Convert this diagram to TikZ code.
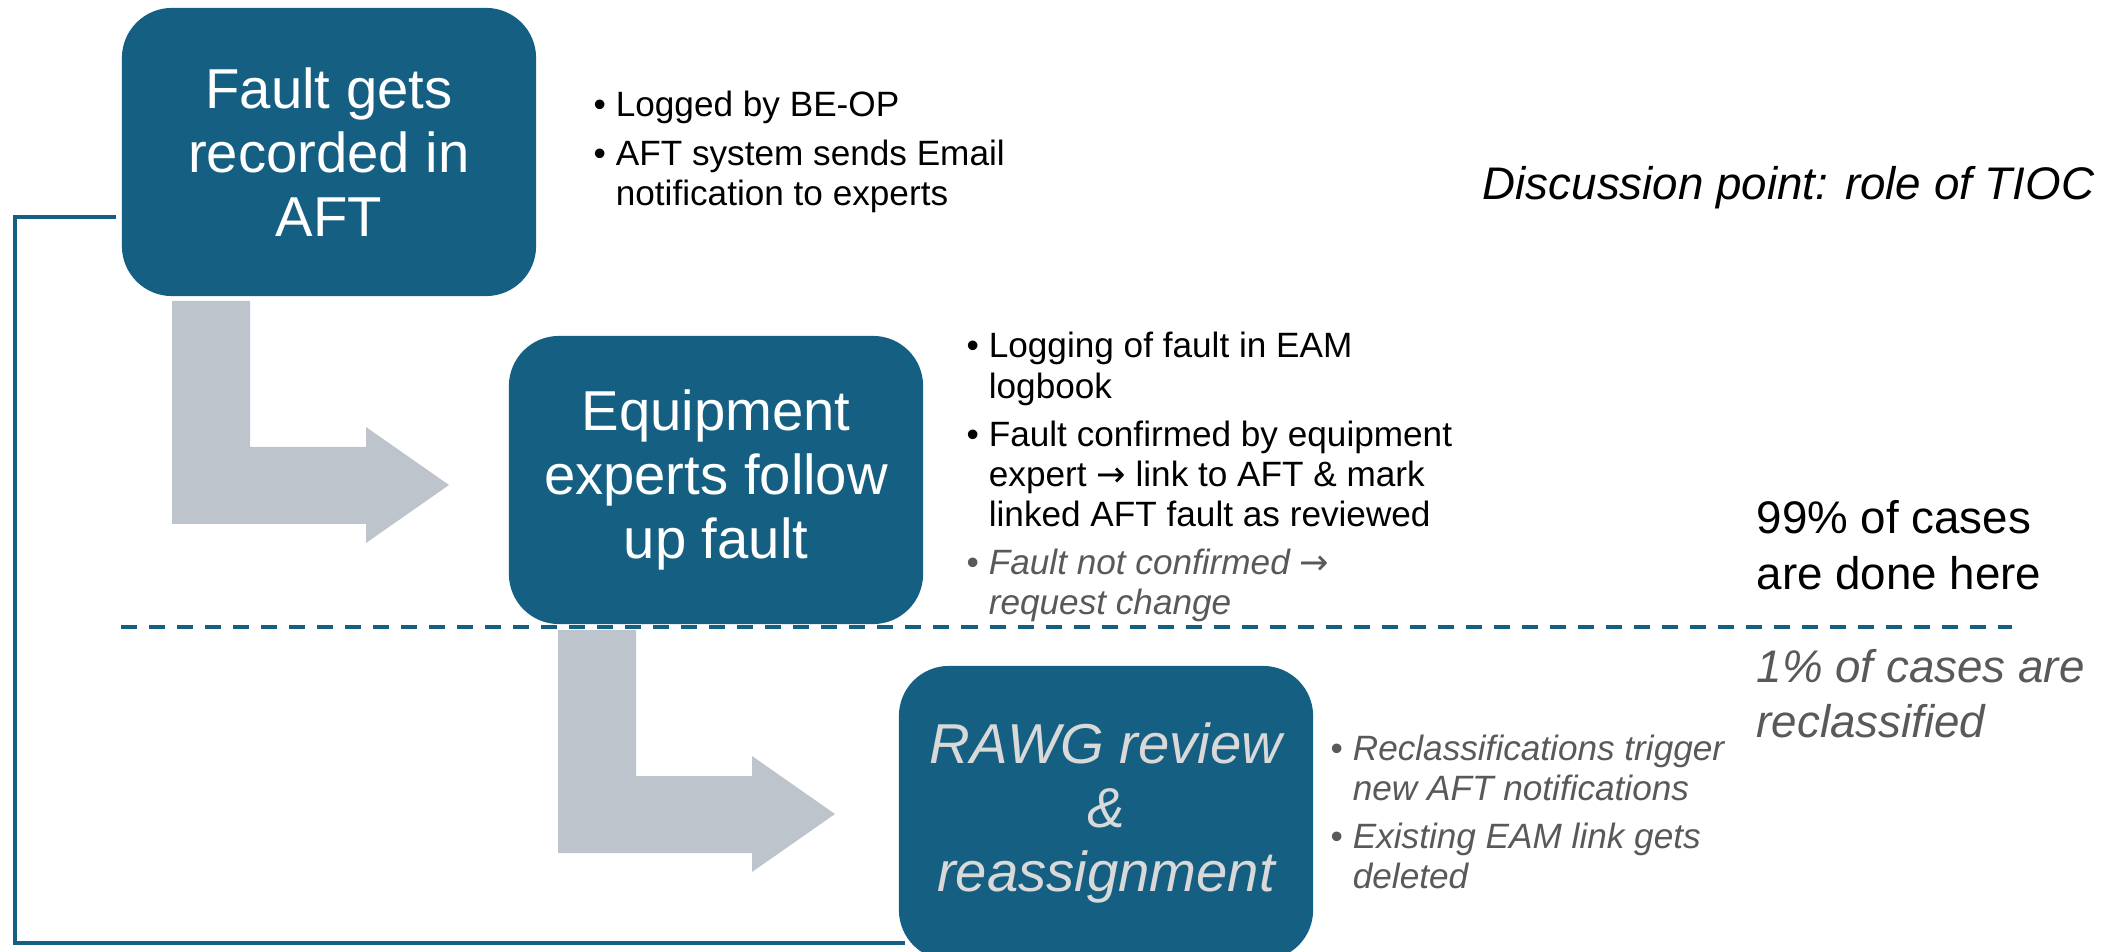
\documentclass[tikz,border=0pt]{standalone}
\usepackage{fontspec}
\setmainfont{Liberation Sans}
\newfontfamily\arrowfont{DejaVu Sans}
\usetikzlibrary{calc}

\definecolor{accblue}{HTML}{156082}
\definecolor{arrowgrey}{HTML}{BDC4CC}
\definecolor{notegrey}{HTML}{595959}
\definecolor{boxgrey}{HTML}{D9D9D9}

\newcommand{\greynote}[1]{\textcolor{notegrey}{\itshape #1}}
\newcommand{\thenarrow}{{\arrowfont\upshape →}}

\tikzset{
	procbox/.style={fill=accblue, rounded corners=0.5cm, minimum width=4.14cm, minimum height=2.88cm, inner sep=0pt, align=center, text=white, font=\fontsize{16}{18.2}\selectfont},
	notes/.style={anchor=base west, inner sep=0pt, font=\fontsize{10}{11.4}\selectfont},
	sidetext/.style={anchor=base west, inner sep=0pt, font=\fontsize{13}{15.9}\selectfont},
	loopline/.style={draw=accblue, line width=1.1pt},
	splitline/.style={draw=accblue, line width=1.2pt, dash pattern=on 0.16cm off 0.12cm}
}

\begin{document}
\begin{tikzpicture}[x=0.01cm,y=-0.01cm]
	\useasboundingbox (0,0) rectangle (2118,952);
	
	%grey bent arrows
	\foreach \dx/\dy in {0/0,386/329}
	\fill[arrowgrey, shift={(\dx,\dy)}] (172,301) -- (250,301) -- (250,447) -- (366,447) -- (366,427) -- (449,485) -- (366,543) -- (366,524) -- (172,524) -- cycle;
	
	%process boxes
	\node[procbox] (fault) at (329,152) {Fault gets\\recorded in\\AFT};
	\node[procbox] (expert) at (716,480) {Equipment\\experts follow\\up fault};
	\node[procbox, minimum height=2.94cm, text=boxgrey, font=\fontsize{16}{18.2}\selectfont\itshape] (rawg) at (1106,813) {RAWG review\\\&\\reassignment};
	
	%notes next to boxes
	\node[notes] (faultnotes) at (593,117) {\begin{tabular}[t]{@{}p{6.3pt}@{}l@{}}
			\textbullet & Logged by BE-OP\\[2.3pt]
			\textbullet & AFT system sends Email\\
			& notification to experts
	\end{tabular}};
	\node[notes] (expertnotes) at (966,358) {\begin{tabular}[t]{@{}p{6.3pt}@{}l@{}}
			\textbullet & Logging of fault in EAM\\
			& logbook\\[2.3pt]
			\textbullet & Fault confirmed by equipment\\
			& expert \thenarrow{} link to AFT \& mark\\
			& linked AFT fault as reviewed\\[2.3pt]
			\textcolor{notegrey}{\textbullet} & \greynote{Fault not confirmed \thenarrow}\\
			& \greynote{request change}
	\end{tabular}};
	\node[notes] (rawgnotes) at (1330,760) {\begin{tabular}[t]{@{}p{6.3pt}@{}l@{}}
			\textcolor{notegrey}{\textbullet} & \greynote{Reclassifications trigger}\\
			& \greynote{new AFT notifications}\\[2.3pt]
			\textcolor{notegrey}{\textbullet} & \greynote{Existing EAM link gets}\\
			& \greynote{deleted}
	\end{tabular}};
	
	%right hand remarks
	\node[sidetext, font=\fontsize{13}{15.9}\selectfont\itshape] (discuss) at (1482,200) {Discussion point: role of TIOC};
	\node[sidetext] (done) at (1756,534) {\begin{tabular}[t]{@{}l@{}}99\% of cases\\are done here\end{tabular}};
	\node[sidetext, text=notegrey, font=\fontsize{13}{15.9}\selectfont\itshape] (reclass) at (1756,682) {\begin{tabular}[t]{@{}l@{}}1\% of cases are\\reclassified\end{tabular}};
	
	%split between normal and reclassified cases
	\coordinate (splitL) at (121,627);
	\coordinate (splitR) at (2012,627);
	\draw[splitline] (splitL) -- (splitR);
	
	%loop back from first box to RAWG
	\draw[loopline] ($(fault.west)+(-5,65)$) -- ($(fault.west)+(-106,65)$) |- ($(rawg.west)+(7,130)$);
\end{tikzpicture}
\end{document}
